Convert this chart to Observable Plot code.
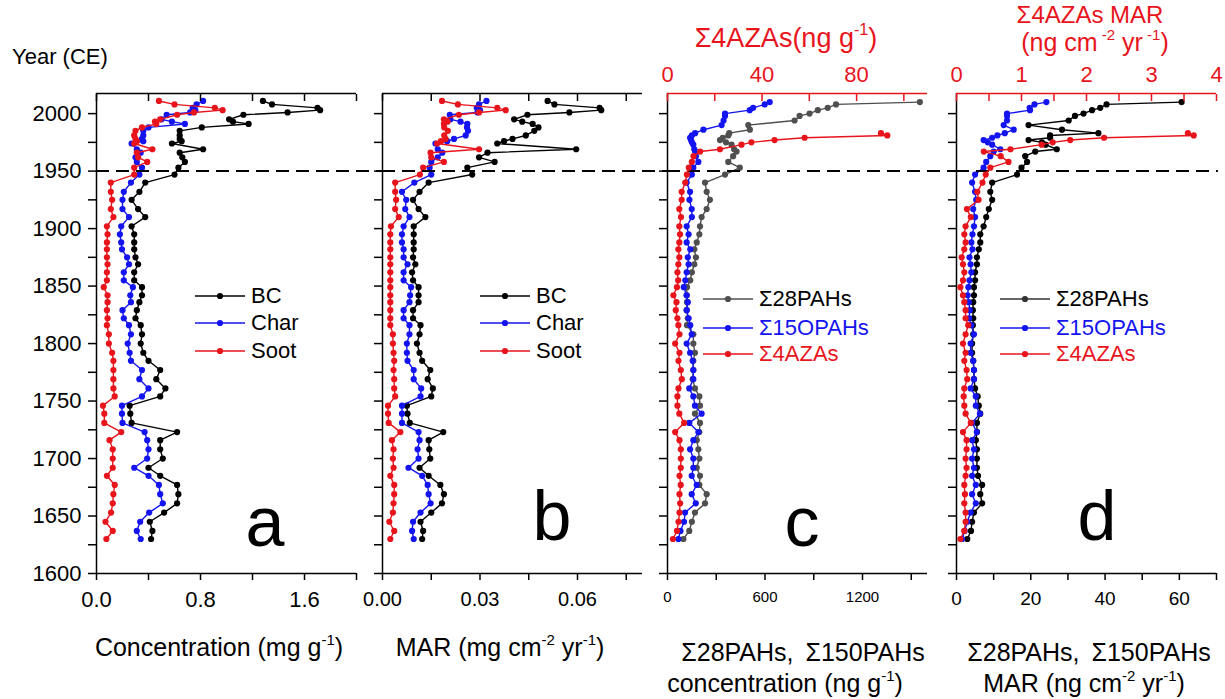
<!DOCTYPE html>
<html><head><meta charset="utf-8">
<script src="https://cdn.jsdelivr.net/npm/d3@7"></script>
<script src="https://cdn.jsdelivr.net/npm/@observablehq/plot@0.6"></script>
<style>
html,body{margin:0;padding:0;background:#fff;}
#fig{position:relative;width:1225px;height:699px;overflow:hidden;font-family:"Liberation Sans",Arial,sans-serif;color:#000;}
#fig svg.p{position:absolute;top:0;overflow:visible;}
.t{position:absolute;white-space:nowrap;line-height:1;transform:translate(-50%,-50%);}
.l{position:absolute;white-space:nowrap;line-height:1;transform:translate(0,-50%);display:flex;align-items:center;font-size:22px;}
.l svg{margin-right:6px;}
sup{font-size:0.6em;vertical-align:0.7em;line-height:0;}
</style></head><body><div id="fig"></div><script>
// ---- data: sample years (CE) ----
const yearsAB = [1630,1637,1645,1653,1661,1669,1677,1685,1692,1700,1708,1716,1723,1731,1739,1746,1754,1761,1769,1777,1785,1792,1800,1808,1816,1822,1829,1836,1842,1849,1855,1862,1869,1875,1882,1888,1895,1902,1910,1917,1925,1932,1940,1947,1953,1958,1962,1966,1969,1974,1976,1978,1981,1985,1988,1991,1993,1995,1999,2001,2003,2005,2008,2011];
const yearsCD = [1630,1637,1645,1653,1661,1669,1677,1685,1692,1700,1708,1716,1723,1731,1739,1746,1754,1761,1769,1777,1785,1792,1800,1808,1816,1822,1829,1836,1842,1849,1855,1862,1869,1875,1882,1888,1895,1902,1910,1917,1925,1932,1940,1947,1953,1958,1963,1967,1969,1973,1975,1977,1979,1981,1983,1986,1990,1994,1998,2000,2003,2005,2008,2010];

// panel a: concentration (mg g-1)
const bcConc = [0.42,0.43,0.41,0.52,0.62,0.63,0.62,0.49,0.40,0.51,0.49,0.49,0.62,0.27,0.26,0.255,0.49,0.53,0.46,0.49,0.40,0.36,0.34,0.35,0.34,0.30,0.31,0.33,0.35,0.35,0.29,0.29,0.32,0.30,0.29,0.29,0.29,0.27,0.375,0.32,0.27,0.33,0.375,0.60,0.63,0.68,0.66,0.64,0.82,0.58,0.655,0.64,0.64,0.64,0.81,1.17,1.05,1.02,1.13,1.47,1.72,1.70,1.35,1.28];
const charConc = [0.34,0.31,0.336,0.405,0.51,0.49,0.48,0.40,0.29,0.39,0.40,0.39,0.37,0.20,0.196,0.196,0.35,0.40,0.33,0.35,0.265,0.255,0.24,0.265,0.25,0.21,0.20,0.265,0.26,0.28,0.21,0.21,0.25,0.235,0.196,0.19,0.18,0.19,0.25,0.20,0.20,0.21,0.265,0.33,0.35,0.31,0.30,0.34,0.31,0.27,0.36,0.35,0.36,0.36,0.40,0.68,0.58,0.50,0.54,0.72,0.76,0.74,0.77,0.82];
const sootConc = [0.076,0.125,0.069,0.112,0.125,0.13,0.14,0.08,0.125,0.125,0.125,0.10,0.19,0.06,0.06,0.05,0.14,0.13,0.13,0.13,0.13,0.12,0.095,0.095,0.08,0.085,0.08,0.085,0.085,0.056,0.08,0.08,0.085,0.08,0.08,0.08,0.085,0.08,0.13,0.11,0.12,0.11,0.11,0.29,0.29,0.39,0.32,0.31,0.43,0.29,0.31,0.30,0.29,0.30,0.35,0.46,0.45,0.49,0.62,0.75,0.97,0.91,0.60,0.48];

// panel b: MAR (mg cm-2 yr-1)
const bcMAR = [0.0122,0.0125,0.0117,0.0150,0.0183,0.0189,0.0178,0.0142,0.0114,0.0147,0.0144,0.0142,0.0187,0.0084,0.0077,0.0075,0.0150,0.0155,0.0139,0.0147,0.0122,0.0114,0.0106,0.0114,0.0117,0.0094,0.0094,0.0111,0.0111,0.0111,0.0094,0.0091,0.0101,0.0094,0.0096,0.0096,0.0096,0.0096,0.0132,0.0111,0.0094,0.0114,0.0142,0.0276,0.0261,0.0345,0.0297,0.0323,0.0596,0.0353,0.0374,0.0400,0.0441,0.0467,0.0480,0.0462,0.0430,0.0405,0.0446,0.0575,0.0673,0.0668,0.0529,0.0508];
const charMAR = [0.0096,0.0091,0.0094,0.0117,0.0148,0.0142,0.0139,0.0122,0.0080,0.0111,0.0108,0.0114,0.0111,0.0060,0.0060,0.0060,0.0117,0.0119,0.0096,0.0096,0.0077,0.0075,0.0075,0.0083,0.0083,0.0065,0.0065,0.0083,0.0085,0.0088,0.0065,0.0065,0.0077,0.0065,0.0065,0.0060,0.0060,0.0065,0.0083,0.0070,0.0073,0.0060,0.0098,0.0150,0.0145,0.0150,0.0170,0.0184,0.0170,0.0163,0.0199,0.0220,0.0256,0.0263,0.0260,0.0261,0.0240,0.0209,0.0207,0.0292,0.0300,0.0290,0.0297,0.0320];
const sootMAR = [0.0024,0.0036,0.0021,0.0032,0.0034,0.0036,0.0036,0.0024,0.0034,0.0032,0.0034,0.0029,0.0055,0.0019,0.0017,0.0017,0.0039,0.0036,0.0036,0.0034,0.0036,0.0034,0.0032,0.0032,0.0024,0.0024,0.0024,0.0024,0.0024,0.0024,0.0024,0.0024,0.0024,0.0024,0.0024,0.0024,0.0024,0.0026,0.0050,0.0039,0.0042,0.0039,0.0039,0.0115,0.0125,0.0189,0.0150,0.0148,0.0297,0.0168,0.0180,0.0194,0.0190,0.0201,0.0190,0.0189,0.0200,0.0189,0.0235,0.0297,0.0379,0.0353,0.0232,0.0183];

// panel c: concentration (ng g-1); AZAs on top axis
const pah28Conc = [98,134,150,169,231,241,196,200,180,196,190,180,196,200,169,200,196,169,155,159,159,169,159,159,120,125,118,120,118,120,140,150,165,175,165,180,196,200,210,241,261,241,231,354,445,374,404,425,410,394,360,323,340,374,380,507,497,782,813,874,925,986,1037,1553];
const opah15Conc = [67,80,102,108,174,149,180,149,159,159,139,159,190,134,210,169,159,134,159,159,155,139,118,149,140,130,118,125,118,100,110,118,130,125,140,118,130,118,150,149,135,139,118,150,159,190,175,170,165,159,150,145,139,150,170,221,333,345,354,354,506,527,598,629];
const aza4Conc = [2.3,4.0,4.65,5.07,5.35,5.07,5.6,5.07,5.63,5.63,5.63,5.07,3.24,7.03,5.0,4.2,4.2,4.65,6.05,5.63,4.65,5.07,3.24,5.07,4.6,4.2,3.5,3.8,2.5,4.0,4.5,4.2,4.6,5.0,4.6,5.0,5.3,5.0,5.7,5.0,6.0,6.0,7.5,8.2,9.0,10.3,11,13.8,22.2,31.3,35.5,45.3,58,93,90.3,null,null,null,null,null,null,null,null,null];

// panel d: MAR (ng cm-2 yr-1); AZAs MAR on top axis
const pah28MAR = [2.9,3.9,4.2,4.7,6.9,6.4,6.9,5.8,5.5,5.5,5.5,5.2,5.5,5.5,6.4,6.0,5.7,5.0,4.7,4.7,4.5,4.2,4.2,4.5,4.4,4.5,4.4,4.5,4.7,4.7,5.0,5.0,5.5,5.5,6.0,6.4,6.4,7.3,8.0,8.7,9.6,9.1,9.6,16.3,17.5,19,18.5,21.2,27,24,23,19.4,25.2,25.2,38.2,28.4,19.4,30.2,31.9,34.2,36.5,38.7,40.4,60.6];
const opah15MAR = [1.5,2.2,2.9,3.8,5.2,4.2,5.2,4.2,4.7,4.2,4.7,4.2,5.5,4.2,6.3,5.2,5.2,3.8,4.7,4.7,4.5,3.8,3.8,4.7,4.0,3.4,3.6,3.3,3.0,3.2,3.5,4.0,3.8,3.5,4.3,4.0,4.3,4.7,5.0,4.5,5.3,5.0,4.2,5.0,7.3,8.0,9.1,10,11.8,9.6,8.4,7.3,9.6,11,13,15.4,12.7,13.6,13.6,13.6,19.8,19.7,21,24.2];
const aza4MAR = [0.06,0.12,0.14,0.14,0.12,0.13,0.12,0.14,0.155,0.14,0.155,0.155,0.10,0.22,0.14,0.12,0.11,0.12,0.165,0.155,0.12,0.14,0.10,0.14,0.18,0.14,0.14,0.12,0.10,0.06,0.10,0.12,0.10,0.08,0.12,0.14,0.12,0.14,0.22,0.16,0.34,0.32,0.40,0.45,0.52,0.80,0.68,0.42,0.83,1.31,1.48,1.75,2.27,3.65,3.56,null,null,null,null,null,null,null,null,null];

// tick values
const yTicks = d3.range(1600, 2001, 25);
const ticksA = [0,0.4,0.8,1.2,1.6,2.0], labelsA = [0,0.8,1.6];
const ticksB = [0,0.015,0.03,0.045,0.06,0.075], labelsB = [0,0.03,0.06];
const ticksC = [0,300,600,900,1200,1500], labelsC = [0,600,1200];
const ticksD = [0,10,20,30,40,50,60,70], labelsD = [0,20,40,60];
const ticksCtop = [0,20,40,60,80,100], labelsCtop = [0,40,80];
const ticksDtop = [0,0.5,1,1.5,2,2.5,3,3.5,4], labelsDtop = [0,1,2,3,4];

const RED = "#e8141c", BLUE = "#1414f0", GRAY = "#4f4f4f", BLACK = "#000";
const H = 699, MT = 93, BOT = 573, YTOP = 2017.5, PW = 260;
const fig = document.getElementById("fig");
const rows = (years, vals) => years.map((y, i) => ({year: y, v: vals[i]}));

function seriesMarks(data, color) {
  return [
    Plot.line(data, {x: "v", y: "year", stroke: color, strokeWidth: 1.4}),
    Plot.dot(data, {x: "v", y: "year", fill: color, r: 3.1})
  ];
}

function place(svg, left, color) {
  svg.classList.add("p");
  svg.style.left = left + "px";
  if (color) svg.style.color = color;
  fig.appendChild(svg);
}

function panel(o) {
  const marks = [];
  for (const s of o.series) marks.push(...seriesMarks(s.data, s.color));
  marks.push(Plot.ruleY([1950], {x1: o.domain[0], x2: o.ruleX2, stroke: BLACK, strokeWidth: 2, strokeDasharray: "13,7"}));
  marks.push(Plot.ruleX([o.domain[0]], {stroke: BLACK, strokeWidth: 1.5}));
  marks.push(Plot.ruleY([1600], {stroke: BLACK, strokeWidth: 1.5}));
  if (o.topTicks) {
    marks.push(Plot.ruleY([YTOP], {stroke: BLACK, strokeWidth: 1.5}));
    marks.push(Plot.axisX({anchor: "top", ticks: o.ticks, tickSize: -7, tickFormat: () => "", label: null, strokeWidth: 1.5}));
  }
  marks.push(Plot.axisY({ticks: yTicks, tickSize: 8, tickPadding: 7, label: null, strokeWidth: 1.5, fontSize: 22,
    tickFormat: o.yLabels ? (d => d % 50 === 0 ? String(d) : "") : () => ""}));
  marks.push(Plot.axisX({ticks: o.ticks, tickSize: 7, tickPadding: 11, label: null, strokeWidth: 1.5, fontSize: o.fontSize,
    tickFormat: d => o.labels.includes(d) ? o.fmt(d) : ""}));
  const svg = Plot.plot({
    width: o.ml + PW + o.mr, height: H,
    marginLeft: o.ml, marginRight: o.mr, marginTop: MT, marginBottom: H - BOT,
    x: {domain: o.domain}, y: {domain: [1600, YTOP]},
    style: {background: "transparent", overflow: "visible", fontFamily: "'Liberation Sans', Arial, sans-serif"},
    marks
  });
  place(svg, o.left);
}

function topOverlay(o) {
  const svg = Plot.plot({
    width: o.ml + PW + o.mr, height: H,
    marginLeft: o.ml, marginRight: o.mr, marginTop: MT, marginBottom: H - BOT,
    x: {domain: o.domain}, y: {domain: [1600, YTOP], axis: null},
    style: {background: "transparent", overflow: "visible", fontFamily: "'Liberation Sans', Arial, sans-serif"},
    marks: [
      ...seriesMarks(o.data, RED),
      Plot.ruleY([YTOP], {stroke: RED, strokeWidth: 1.5}),
      Plot.axisX({anchor: "top", ticks: o.ticks, tickSize: -7, tickFormat: () => "", label: null, strokeWidth: 1.5}),
      Plot.axisX({anchor: "top", ticks: o.labels, tickSize: 0, tickPadding: 12, label: null, fontSize: 22, tickFormat: d => String(d)})
    ]
  });
  place(svg, o.left, RED);
}

panel({left: 0, ml: 96, mr: 26, domain: [0, 2], ruleX2: 2.2, ticks: ticksA, labels: labelsA, fmt: d3.format(".1f"), fontSize: 22, yLabels: true, topTicks: true,
  series: [{data: rows(yearsAB, bcConc), color: BLACK}, {data: rows(yearsAB, charConc), color: BLUE}, {data: rows(yearsAB, sootConc), color: RED}]});
panel({left: 356, ml: 26, mr: 25, domain: [0, 0.08], ruleX2: 0.0877, ticks: ticksB, labels: labelsB, fmt: d3.format(".2f"), fontSize: 20, topTicks: true,
  series: [{data: rows(yearsAB, bcMAR), color: BLACK}, {data: rows(yearsAB, charMAR), color: BLUE}, {data: rows(yearsAB, sootMAR), color: RED}]});
panel({left: 642, ml: 25, mr: 29, domain: [0, 1600], ruleX2: 1778, ticks: ticksC, labels: labelsC, fmt: d => String(d), fontSize: 15, topTicks: false,
  series: [{data: rows(yearsCD, pah28Conc), color: GRAY}, {data: rows(yearsCD, opah15Conc), color: BLUE}]});
topOverlay({left: 642, ml: 25, mr: 29, domain: [0, 110], ticks: ticksCtop, labels: labelsCtop, data: rows(yearsCD, aza4Conc)});
panel({left: 927, ml: 29, mr: 9, domain: [0, 70], ruleX2: 70.5, ticks: ticksD, labels: labelsD, fmt: d => String(d), fontSize: 19, topTicks: false,
  series: [{data: rows(yearsCD, pah28MAR), color: BLACK}, {data: rows(yearsCD, opah15MAR), color: BLUE}]});
topOverlay({left: 927, ml: 29, mr: 9, domain: [0, 4], ticks: ticksDtop, labels: labelsDtop, data: rows(yearsCD, aza4MAR)});

// ---- text ----
function txt(html, cx, cy, size, color, cls) {
  const d = document.createElement("div");
  d.className = cls || "t";
  d.style.left = cx + "px"; d.style.top = cy + "px";
  d.style.fontSize = size + "px";
  if (color) d.style.color = color;
  d.innerHTML = html;
  fig.appendChild(d);
}
txt("Year (CE)", 12, 57, 22, null, "l");
txt("Concentration (mg g<sup>-1</sup>)", 219, 647, 25);
txt("MAR (mg cm<sup>-2</sup> yr<sup>-1</sup>)", 500, 647, 25);
txt("Σ28PAHs, &thinsp;Σ150PAHs", 803, 652, 25);
txt("concentration (ng g<sup>-1</sup>)", 785, 683, 25);
txt("Σ28PAHs, &thinsp;Σ150PAHs", 1089, 652, 25);
txt("MAR (ng cm<sup>-2</sup> yr<sup>-1</sup>)", 1084, 683, 25);
txt("Σ4AZAs(ng g<sup>-1</sup>)", 786, 38, 27, RED);
txt("Σ4AZAs MAR", 1090, 15, 24, RED);
txt("(ng cm<sup> -2</sup> yr<sup> -1</sup>)", 1095, 42, 25, RED);
txt("a", 265, 522, 70); txt("b", 552, 516, 70); txt("c", 802, 522, 70); txt("d", 1097, 516, 70);

function legend(x, y, lineColor, label, textColor) {
  const d = document.createElement("div");
  d.className = "l";
  d.style.left = x + "px"; d.style.top = y + "px";
  d.innerHTML = `<svg width="50" height="10"><line x1="0" y1="5" x2="50" y2="5" stroke="${lineColor}" stroke-width="1.6"/><circle cx="25" cy="5" r="3.1" fill="${lineColor}"/></svg><span style="color:${textColor}">${label}</span>`;
  fig.appendChild(d);
}
legend(195, 296, BLACK, "BC", BLACK); legend(195, 323, BLUE, "Char", BLACK); legend(195, 351, RED, "Soot", BLACK);
legend(480, 296, BLACK, "BC", BLACK); legend(480, 323, BLUE, "Char", BLACK); legend(480, 351, RED, "Soot", BLACK);
legend(703, 299, GRAY, "Σ28PAHs", BLACK); legend(703, 328, BLUE, "Σ15OPAHs", BLUE); legend(703, 354, RED, "Σ4AZAs", RED);
legend(1000, 299, "#333", "Σ28PAHs", BLACK); legend(1000, 328, BLUE, "Σ15OPAHs", BLUE); legend(1000, 354, RED, "Σ4AZAs", RED);
</script></body></html>
